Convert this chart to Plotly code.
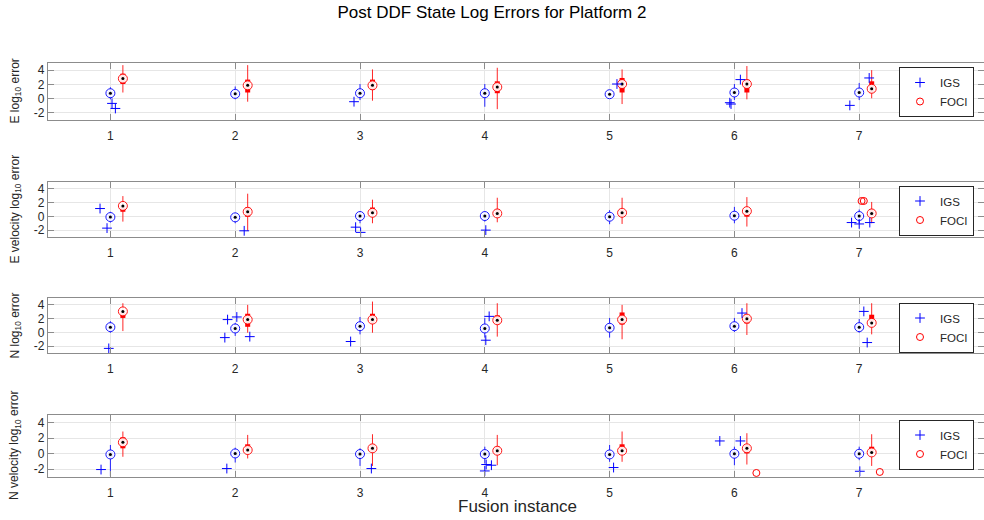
import plotly.graph_objects as go

# ---------------- data ----------------
INSTANCES = [1, 2, 3, 4, 5, 6, 7]
GROUPS = ["IGS", "FOCI"]
GROUP_POS_OFFSET = [0.0, 0.1]
PANEL_YLABELS = [
    "E log<sub>10</sub> error",
    "E velocity log<sub>10</sub> error",
    "N log<sub>10</sub> error",
    "N velocity log<sub>10</sub> error",
]
Y_TICKS = [-2, 0, 2, 4]
Y_TICK_TEXT = ["-2", "0", "2", "4"]
X_TICK_TEXT = ["1", "2", "3", "4", "5", "6", "7"]
TITLE = "Post DDF State Log Errors for Platform 2"
XLABEL = "Fusion instance"

# box statistics per instance: (lower whisker, q1, median, q3, upper whisker)
E_IGS = [(-0.1, 0.5, 0.76, 1.0, 1.6), (-0.1, 0.45, 0.67, 0.9, 1.7), (-0.2, 0.5, 0.76, 1.0, 2.05),
         (-1.14, 0.5, 0.76, 1.0, 2.05), (0.2, 0.45, 0.62, 0.8, 1.0), (-0.19, 0.6, 0.86, 1.1, 2.05),
         (-0.2, 0.6, 0.86, 1.1, 2.2)]
E_FOCI = [(0.86, 2.05, 2.81, 3.5, 4.7), (-0.43, 0.86, 1.86, 2.67, 4.7), (-0.29, 1.24, 1.86, 2.67, 4.1),
          (-1.48, 0.76, 1.62, 2.43, 4.33), (-0.76, 0.86, 2.05, 2.9, 4.1), (-0.1, 0.86, 2.05, 2.67, 4.57),
          (0.05, 0.86, 1.38, 2.43, 4.0)]
EV_IGS = [(-0.9, -0.4, -0.1, 0.2, 0.67), (-1.0, -0.4, -0.14, 0.15, 0.52), (-1.0, -0.25, 0.05, 0.3, 0.67),
          (-0.76, -0.25, 0.05, 0.3, 0.67), (-1.14, -0.35, -0.05, 0.25, 0.9), (-1.0, -0.2, 0.1, 0.4, 1.38),
          (-1.0, -0.25, 0.05, 0.35, 1.0)]
EV_FOCI = [(-0.76, 0.67, 1.52, 1.6, 2.95), (-2.1, -0.05, 0.67, 1.29, 3.3), (-1.0, 0.3, 0.52, 1.29, 2.43),
           (-0.86, 0.05, 0.43, 1.0, 2.71), (-1.1, 0.05, 0.52, 1.0, 2.71), (-1.48, -0.05, 0.76, 1.0, 2.8),
           (-1.0, 0.05, 0.43, 1.0, 2.1)]
N_IGS = [(-0.05, 0.5, 0.76, 1.0, 1.62), (-0.52, 0.3, 0.57, 0.85, 1.38), (-0.29, 0.6, 0.9, 1.2, 2.24),
         (-0.76, 0.3, 0.57, 0.85, 2.1), (-0.76, 0.4, 0.67, 0.95, 2.1), (0.05, 0.6, 0.9, 1.2, 2.1),
         (-0.05, 0.5, 0.76, 1.0, 1.95)]
N_FOCI = [(0.19, 2.1, 3.05, 3.2, 4.24), (-0.05, 0.81, 1.86, 2.71, 4.0), (-0.05, 1.38, 1.86, 2.71, 4.48),
          (-0.62, 1.24, 1.76, 2.48, 4.24), (-1.0, 1.14, 1.86, 2.9, 4.0), (-0.38, 1.29, 2.0, 2.57, 4.24),
          (-0.29, 1.4, 1.38, 2.57, 4.24)]
NV_IGS = [(-2.87, -0.4, -0.09, 0.2, 1.13), (-1.13, -0.25, 0.04, 0.3, 0.78), (-1.57, -0.3, -0.04, 0.25, 0.7),
          (-1.26, -0.3, -0.04, 0.25, 0.91), (-1.04, -0.35, -0.09, 0.2, 1.13), (-1.48, -0.3, 0.0, 0.3, 0.91),
          (-0.83, -0.3, 0.0, 0.3, 0.91)]
NV_FOCI = [(-0.39, 0.7, 1.48, 2.13, 2.87), (-0.61, 0.26, 0.48, 1.22, 2.43), (-1.57, 0.3, 0.7, 1.22, 2.52),
           (-1.48, 0.04, 0.39, 0.91, 2.43), (-1.04, 0.26, 0.39, 1.22, 2.87), (-1.39, 0.04, 0.7, 1.13, 2.65),
           (-1.57, 0.0, 0.17, 0.91, 2.52)]

# outliers (jittered x position, value)
E_IGS_OUT_X = [1.013, 1.04, 2.952, 5.059, 5.963, 5.973, 6.048, 6.925, 7.08]
E_IGS_OUT_Y = [-0.67, -1.38, -0.43, 2.05, -0.57, -0.76, 2.67, -0.95, 2.9]
E_FOCI_OUT_X = []
E_FOCI_OUT_Y = []
EV_IGS_OUT_X = [0.917, 0.973, 2.072, 2.965, 3.005, 4.008, 6.939, 7.0, 7.085]
EV_IGS_OUT_Y = [1.14, -1.71, -2.1, -1.57, -2.33, -2.0, -0.9, -1.1, -0.9]
EV_FOCI_OUT_X = [7.019, 7.037]
EV_FOCI_OUT_Y = [2.24, 2.24]
N_IGS_OUT_X = [0.987, 1.939, 2.013, 1.917, 2.117, 2.925, 4.035, 4.008, 6.061, 7.037, 7.064]
N_IGS_OUT_Y = [-2.33, 1.86, 2.24, -0.76, -0.62, -1.33, 2.33, -1.14, 2.81, 3.05, -1.48]
N_FOCI_OUT_X = []
N_FOCI_OUT_Y = []
NV_IGS_OUT_X = [0.925, 1.933, 3.091, 4.011, 4.053, 4.0, 5.032, 5.883, 6.048, 7.005]
NV_IGS_OUT_Y = [-2.04, -1.91, -1.91, -1.39, -1.48, -2.22, -1.78, 1.65, 1.65, -2.26]
NV_FOCI_OUT_X = [6.176, 7.165]
NV_FOCI_OUT_Y = [-2.48, -2.35]

PANELS = [
    ((E_IGS, E_FOCI), ((E_IGS_OUT_X, E_IGS_OUT_Y), (E_FOCI_OUT_X, E_FOCI_OUT_Y))),
    ((EV_IGS, EV_FOCI), ((EV_IGS_OUT_X, EV_IGS_OUT_Y), (EV_FOCI_OUT_X, EV_FOCI_OUT_Y))),
    ((N_IGS, N_FOCI), ((N_IGS_OUT_X, N_IGS_OUT_Y), (N_FOCI_OUT_X, N_FOCI_OUT_Y))),
    ((NV_IGS, NV_FOCI), ((NV_IGS_OUT_X, NV_IGS_OUT_Y), (NV_FOCI_OUT_X, NV_FOCI_OUT_Y))),
]

# ---------------- style / layout ----------------
W, H = 984, 520
ML = 48
COLORS = ["#0000ff", "#ff0000"]
OUT_SYMBOL = ["cross-thin-open", "circle-open"]
FONT = "Liberation Sans, Arial, Helvetica, sans-serif"
TXT = "#262626"
AXC = "#8c8c8c"
GRID = "#e6e6e6"
# panel pixel extents (top, bottom)
PANEL_PX = [(63, 120), (182, 237), (298, 353), (415, 477)]
LEGEND_MID_PX = [92, 210.5, 327.5, 444.5]


def ypaper(px):
    return 1 - px / H


def xpaper(px):
    return (px - ML) / (W - ML)


fig = go.Figure()
annotations = []

for p, ((stats_g), (outs_g)) in enumerate(PANELS):
    ax = "" if p == 0 else str(p + 1)
    xref, yref = "x" + ax, "y" + ax
    leg = "legend" + ("" if p == 0 else str(p + 1))
    for g, stats in enumerate(stats_g):
        off = GROUP_POS_OFFSET[g]
        col = COLORS[g]
        wx, wy, bx, by, mx, my = [], [], [], [], [], []
        for inst, (lo, q1, med, q3, hi) in zip(INSTANCES, stats):
            pos = inst + off
            wx += [pos, pos, None]
            wy += [lo, hi, None]
            bx += [pos, pos, None]
            by += [q1, q3, None]
            mx.append(pos)
            my.append(med)
        fig.add_trace(go.Scatter(x=wx, y=wy, mode="lines", line=dict(color=col, width=1),
                                 opacity=0.85,
                                 xaxis=xref, yaxis=yref, showlegend=False, hoverinfo="skip"))
        fig.add_trace(go.Scatter(x=bx, y=by, mode="lines", line=dict(color=col, width=5),
                                 xaxis=xref, yaxis=yref, showlegend=False, hoverinfo="skip"))
        fig.add_trace(go.Scatter(x=mx, y=my, mode="markers",
                                 marker=dict(symbol="circle", size=9, color="white",
                                             line=dict(color=col, width=1)),
                                 opacity=0.9,
                                 xaxis=xref, yaxis=yref, showlegend=False))
        fig.add_trace(go.Scatter(x=mx, y=my, mode="markers",
                                 marker=dict(symbol="circle", size=3, color="black"),
                                 xaxis=xref, yaxis=yref, showlegend=False, hoverinfo="skip"))
    for g, (ox, oy) in enumerate(outs_g):
        fig.add_trace(go.Scatter(x=ox if ox else [None], y=oy if oy else [None], mode="markers",
                                 name=GROUPS[g],
                                 marker=dict(symbol=OUT_SYMBOL[g], size=7, color=COLORS[g],
                                             line=dict(color=COLORS[g], width=1)),
                                 xaxis=xref, yaxis=yref, legend=leg, showlegend=True))

    top, bot = PANEL_PX[p]
    axis_common = dict(showline=True, linecolor=AXC, linewidth=1.2, mirror="ticks",
                       ticks="inside", ticklen=6, tickcolor=AXC, tickwidth=1,
                       showgrid=True, gridcolor=GRID, gridwidth=1, zeroline=False,
                       tickfont=dict(family=FONT, size=12, color=TXT))
    fig.layout["xaxis" + ax] = dict(domain=[0, 1], range=[0.5, 8.0], anchor=yref,
                                    tickvals=INSTANCES, ticktext=X_TICK_TEXT,
                                    ticklabelstandoff=4, **axis_common)
    fig.layout["yaxis" + ax] = dict(domain=[ypaper(bot), ypaper(top)], range=[-3, 5], anchor=xref,
                                    tickvals=Y_TICKS, ticktext=Y_TICK_TEXT, **axis_common)
    fig.layout[leg] = dict(x=xpaper(974), y=ypaper(LEGEND_MID_PX[p]), xanchor="right", yanchor="middle",
                           bgcolor="white", bordercolor="#262626", borderwidth=1,
                           font=dict(family=FONT, size=11.5, color=TXT), itemwidth=30,
                           tracegroupgap=0)
    annotations.append(dict(text=PANEL_YLABELS[p], textangle=-90, xref="paper", yref="paper",
                            x=xpaper(15), y=ypaper((top + bot) / 2), xanchor="center",
                            yanchor="middle", showarrow=False,
                            font=dict(family=FONT, size=12, color=TXT)))

annotations.append(dict(text=XLABEL, xref="paper", yref="paper", x=xpaper(517), y=ypaper(506),
                        xanchor="center", yanchor="middle", showarrow=False,
                        font=dict(family=FONT, size=17, color=TXT)))

fig.update_layout(
    width=W, height=H,
    margin=dict(l=ML, r=0, t=0, b=0),
    paper_bgcolor="white", plot_bgcolor="white",
    title=dict(text=TITLE, xref="container", x=0.5, xanchor="center",
               yref="container", y=ypaper(12), yanchor="middle",
               font=dict(family=FONT, size=17, color="#000000")),
    annotations=annotations,
    showlegend=True,
)

fig.write_html("out.html", config={"displayModeBar": False},
               post_script="document.body.style.margin='0';document.body.style.overflow='hidden';")
